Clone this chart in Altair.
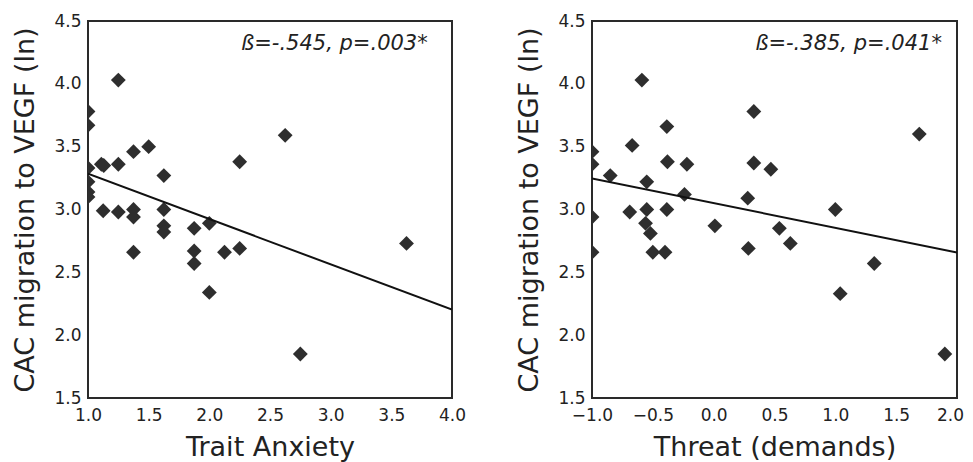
import altair as alt
import pandas as pd

# Panel A: Trait Anxiety
trait_x = [1.0, 1.0, 1.0, 1.0, 1.0, 1.0, 1.25, 1.11, 1.13, 1.25, 1.375, 1.5, 1.625, 2.25, 2.625,
           1.125, 1.25, 1.375, 1.375, 1.625, 1.625, 1.625, 1.875, 1.875, 1.875,
           2.0, 2.0, 1.375, 2.125, 2.25, 2.75, 3.625]
trait_y = [3.78, 3.67, 3.33, 3.22, 3.14, 3.10, 4.03, 3.36, 3.35, 3.36, 3.46, 3.50, 3.27, 3.38, 3.59,
           2.99, 2.98, 3.00, 2.94, 3.00, 2.87, 2.82, 2.85, 2.67, 2.57,
           2.89, 2.34, 2.66, 2.66, 2.69, 1.85, 2.73]
trait_fit_x = [1.0, 4.0]
trait_fit_y = [3.285, 2.203]
trait_note = "ß=-.545, p=.003*"

# Panel B: Threat (demands)
threat_x = [-1.0, -1.0, -1.0, -1.0, -0.85, -0.67, -0.69, -0.59, -0.55, -0.55, -0.56, -0.52, -0.50, -0.40,
            -0.385, -0.38, -0.385, -0.22, -0.24, 0.01, 0.33, 0.33, 0.28, 0.285,
            0.47, 0.54, 0.63, 1.0, 1.04, 1.32, 1.69, 1.90]
threat_y = [3.46, 3.36, 2.94, 2.66, 3.27, 3.51, 2.98, 4.03, 3.22, 3.00, 2.89, 2.81, 2.66, 2.66,
            3.66, 3.38, 3.00, 3.36, 3.12, 2.87, 3.78, 3.37, 3.09, 2.69,
            3.32, 2.85, 2.73, 3.00, 2.33, 2.57, 3.60, 1.85]
threat_fit_x = [-1.0, 2.0]
threat_fit_y = [3.247, 2.658]
threat_note = "ß=-.385, p=.041*"

y_title = "CAC migration to VEGF (ln)"
FONT = "DejaVu Sans"


def panel(xs, ys, fx, fy, note, note_x, xdom, xtitle, w, last_shift):
    pts = pd.DataFrame({"x": xs, "y": ys})
    fit = pd.DataFrame({"x": fx, "y": fy})
    ann = pd.DataFrame({"x": [note_x], "y": [4.27], "t": [note]})
    xs_ = alt.Scale(domain=xdom, nice=False, zero=False)
    ys_ = alt.Scale(domain=[1.5, 4.5], nice=False, zero=False)
    label_offset = alt.condition(f"datum.value == {xdom[1]}", alt.value(last_shift), alt.value(0))
    xax = alt.Axis(title=xtitle, format=".1f", tickCount=6, labelFlush=False, grid=False,
                   ticks=False, domain=False, labelFontSize=17, labelPadding=9,
                   labelOffset=label_offset,
                   titleFontSize=27, titlePadding=11, titleFontWeight="normal",
                   labelColor="#222", titleColor="#222", labelFont=FONT, titleFont=FONT)
    yax = alt.Axis(title=y_title, format=".1f", tickCount=6, grid=False, ticks=False,
                   domain=False, labelFontSize=17, labelPadding=7, labelFlush=False,
                   titleFontSize=27, titlePadding=14, titleFontWeight="normal",
                   labelColor="#222", titleColor="#222", labelFont=FONT, titleFont=FONT)
    points = alt.Chart(pts).mark_point(shape="diamond", filled=True, size=220, color="#2e2e2e",
                                       opacity=1, clip=True).encode(
        x=alt.X("x:Q", scale=xs_, axis=xax),
        y=alt.Y("y:Q", scale=ys_, axis=yax),
    )
    line = alt.Chart(fit).mark_line(color="#111111", strokeWidth=2, clip=True).encode(
        x=alt.X("x:Q", scale=xs_), y=alt.Y("y:Q", scale=ys_)
    )
    text = alt.Chart(ann).mark_text(align="right", baseline="alphabetic", fontSize=21,
                                    fontStyle="italic", font=FONT, color="#222").encode(
        x=alt.X("x:Q", scale=xs_), y=alt.Y("y:Q", scale=ys_), text="t:N"
    )
    return alt.layer(points, line, text).properties(width=w, height=377)


left = panel(trait_x, trait_y, trait_fit_x, trait_fit_y, trait_note, 3.80, [1.0, 4.0],
             "Trait Anxiety", 364, 0)
right = panel(threat_x, threat_y, threat_fit_x, threat_fit_y, threat_note, 1.876, [-1.0, 2.0],
              "Threat (demands)", 365, -7)

chart = alt.hconcat(left, right, spacing=140, bounds="flush").properties(
    autosize=alt.AutoSizeParams(type="none"),
    padding={"left": 80, "top": 13, "right": 877, "bottom": 433},
    background="white",
).configure_view(stroke="#2a2a2a", strokeWidth=2)

chart.save("out.html", embed_options={"renderer": "svg", "actions": False})
